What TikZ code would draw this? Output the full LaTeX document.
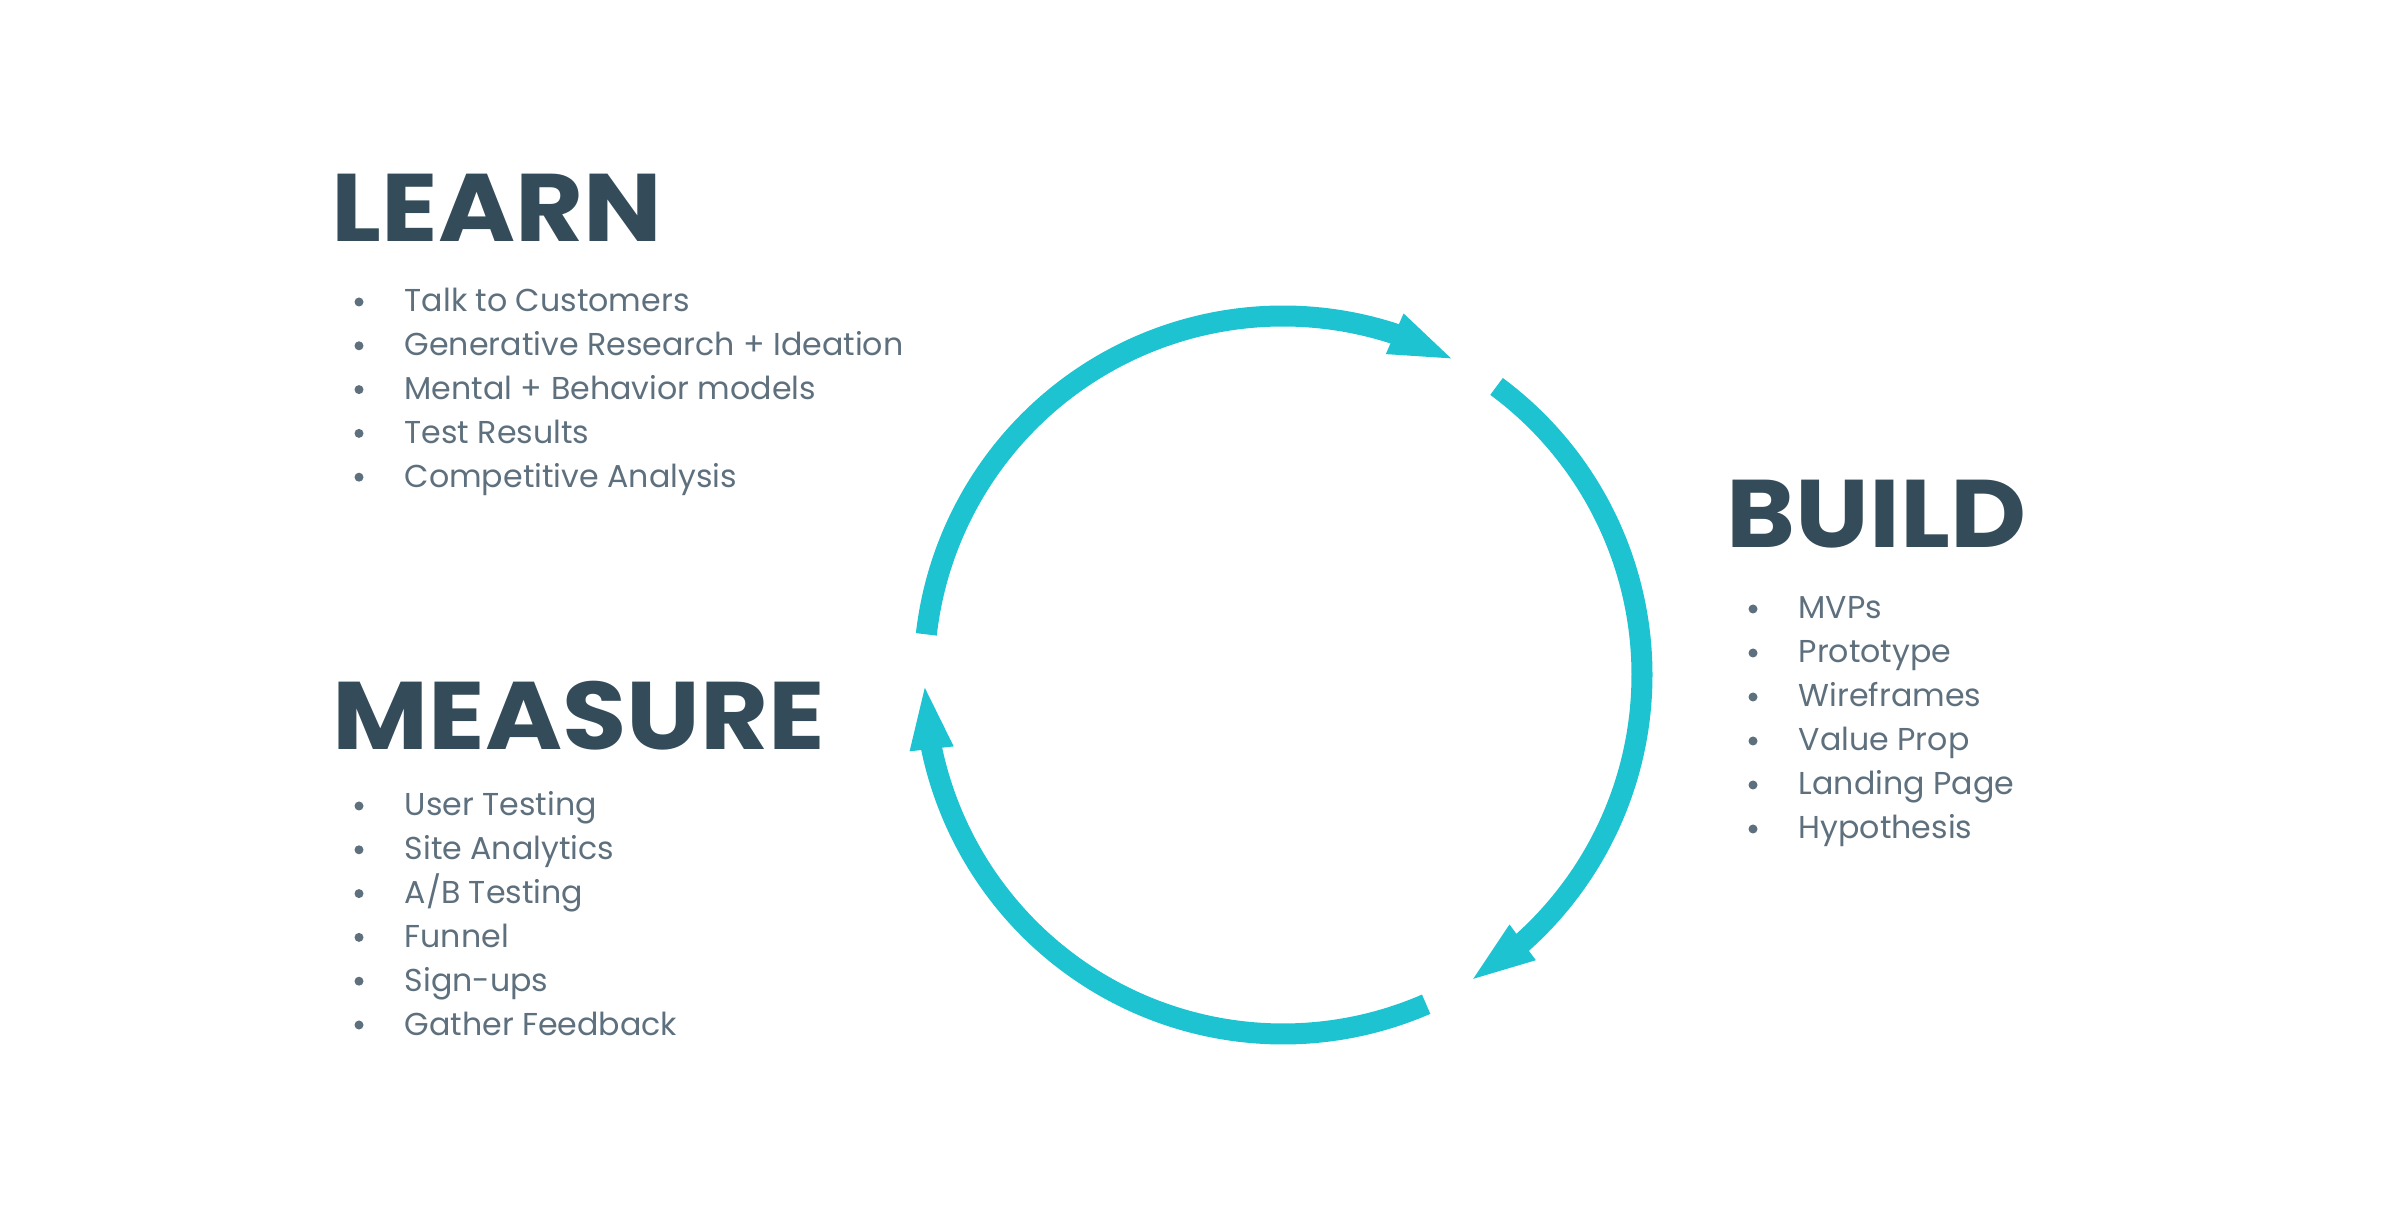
\documentclass[tikz,border=0pt]{standalone}
\usepackage{fontspec}
\setmainfont{Poppins}
\newfontfamily\headfont{Poppins}[FakeStretch=1.09]
\usetikzlibrary{arrows.meta,bending}

\definecolor{headcol}{RGB}{52,75,89}
\definecolor{itemcol}{RGB}{94,112,125}
\definecolor{loopcol}{RGB}{29,195,209}

\begin{document}
\begin{tikzpicture}[x=0.01cm,y=0.01cm,
  heading/.style={anchor=base west,inner sep=0pt,text=headcol,
    font=\fontsize{27.3}{30}\headfont\bfseries},
  item/.style={anchor=base west,inner sep=0pt,text=itemcol,
    font=\fontsize{9}{11}\selectfont},
  dot/.style={circle,fill=itemcol,inner sep=0pt,minimum size=0.09cm},
  loop/.style={loopcol,line width=0.21cm,-{Triangle[length=0.68cm,width=0.38cm]}}]

\useasboundingbox (0,0) rectangle (2400,1224);

% the cycle, three arcs with a gap before each start
\coordinate (centre) at (1283,549);
\foreach \a in {0,120,240}
  \draw[loop,shift={(centre)}] (173.5-\a:359) arc[start angle=173.5-\a,end angle=61-\a,radius=359];

% headings
\node[heading] (learn) at (331,982) {LEARN};
\node[heading] (build) at (1726,676) {BUILD};
\node[heading] (measure) at (332,474) {MEASURE};

% lists
\foreach \t [count=\i] in {Talk to Customers,Generative Research + Ideation,
    Mental + Behavior models,Test Results,Competitive Analysis} {
  \node[item] (learn\i) at (404,{912-43.8*(\i-1)}) {\t};
  \node[dot] (learndot\i) at (359,{922-43.8*(\i-1)}) {};
}
\foreach \t [count=\i] in {MVPs,Prototype,Wireframes,Value Prop,Landing Page,Hypothesis} {
  \node[item] (build\i) at (1798,{605-44*(\i-1)}) {\t};
  \node[dot] (builddot\i) at (1753,{615-44*(\i-1)}) {};
}
\foreach \t [count=\i] in {User Testing,Site Analytics,{A/B Testing},Funnel,Sign-ups,Gather Feedback} {
  \node[item] (measure\i) at (404,{408-43.8*(\i-1)}) {\t};
  \node[dot] (measuredot\i) at (359,{418-43.8*(\i-1)}) {};
}
\end{tikzpicture}
\end{document}
